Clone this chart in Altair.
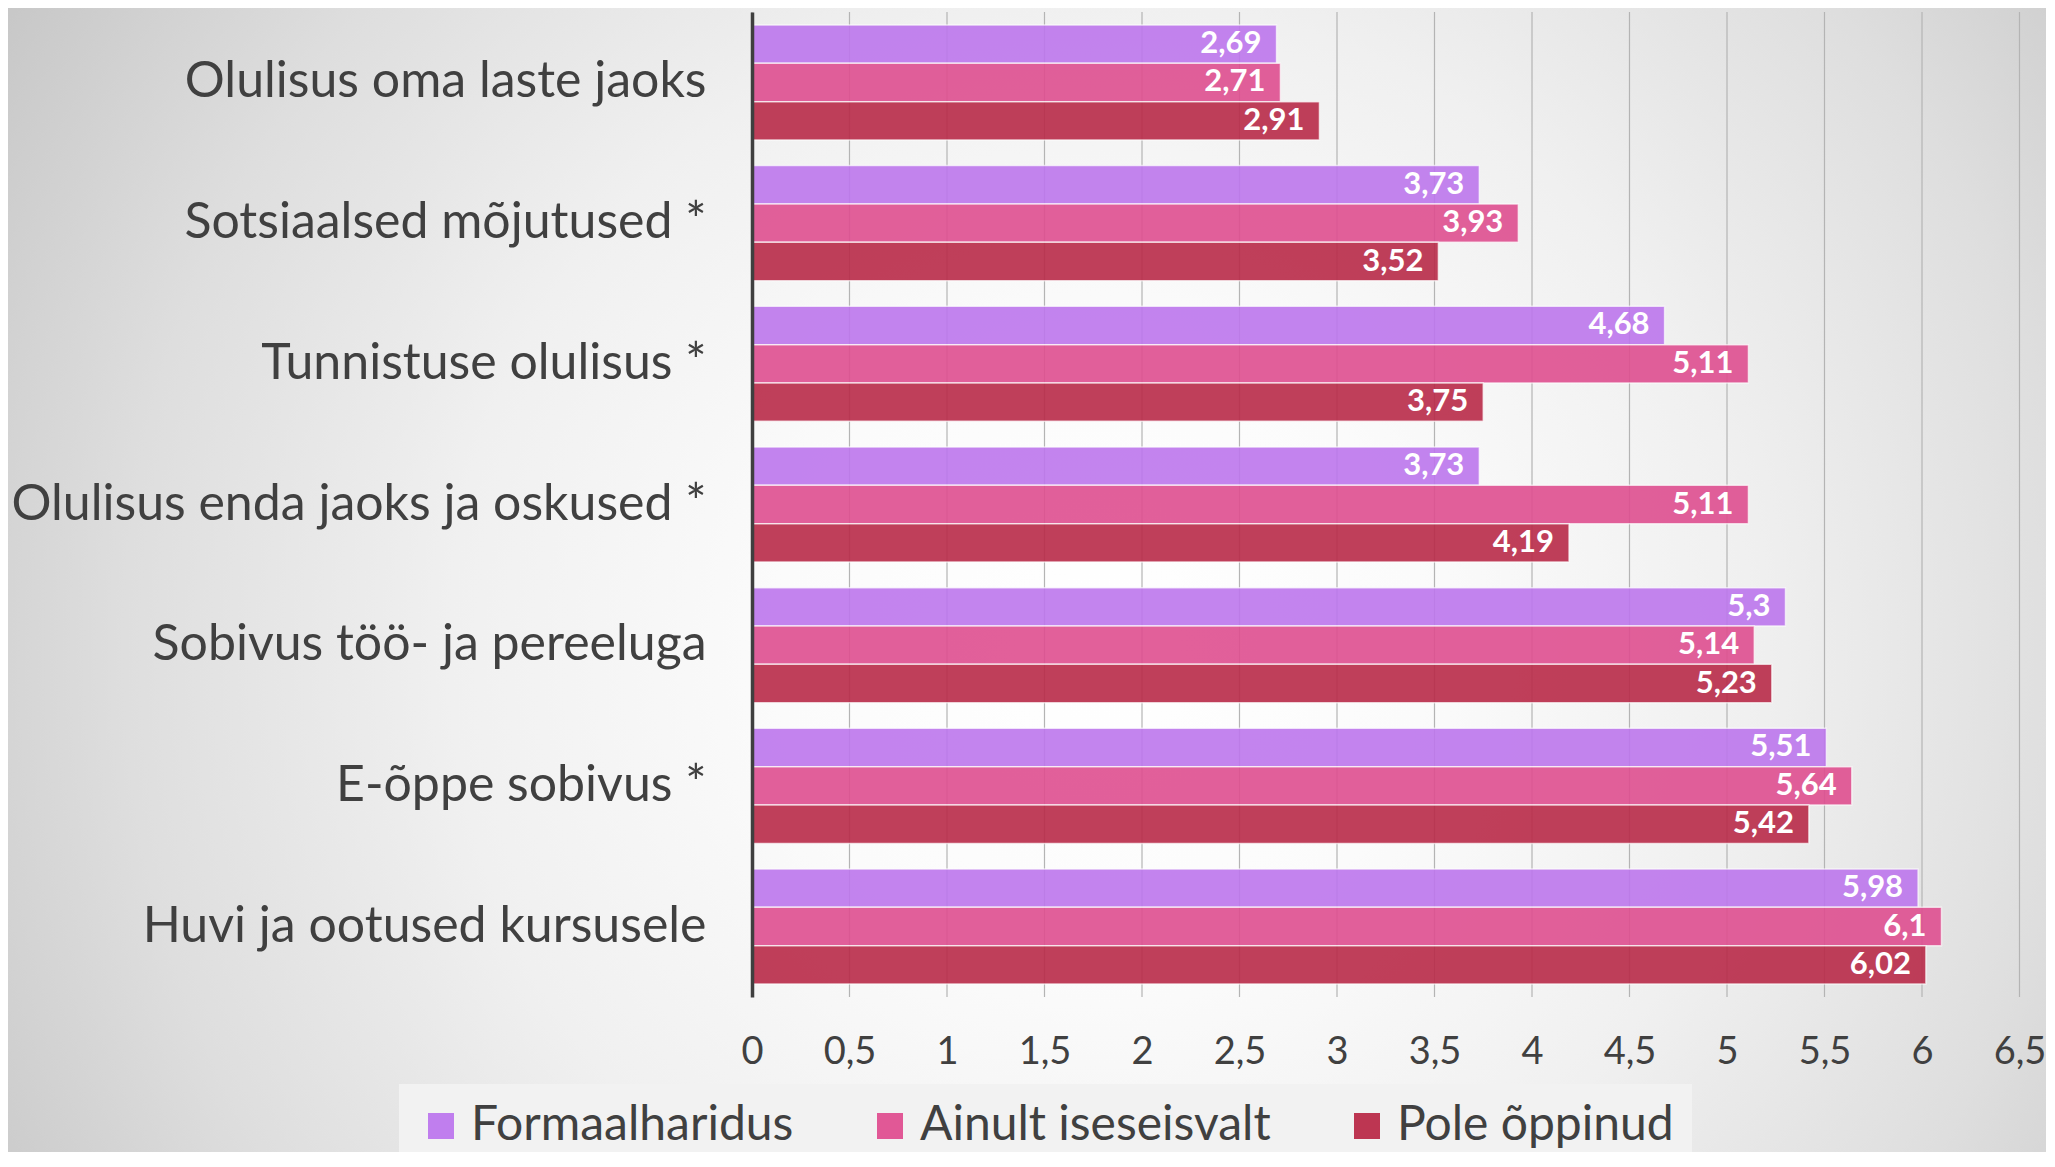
import altair as alt
import pandas as pd

categories = [
    "Olulisus oma laste jaoks",
    "Sotsiaalsed mõjutused *",
    "Tunnistuse olulisus *",
    "Olulisus enda jaoks ja oskused *",
    "Sobivus töö- ja pereeluga",
    "E-õppe sobivus *",
    "Huvi ja ootused kursusele",
]
series = ["Formaalharidus", "Ainult iseseisvalt", "Pole õppinud"]
formaal = [2.69, 3.73, 4.68, 3.73, 5.3, 5.51, 5.98]
iseseisvalt = [2.71, 3.93, 5.11, 5.11, 5.14, 5.64, 6.1]
pole = [2.91, 3.52, 3.75, 4.19, 5.23, 5.42, 6.02]
x_ticks = [0, 0.5, 1, 1.5, 2, 2.5, 3, 3.5, 4, 4.5, 5, 5.5, 6, 6.5]
colors = ["#bd77ed", "#df4f90", "#b92b49"]

rows = []
for s, vals in zip(series, [formaal, iseseisvalt, pole]):
    for c, v in zip(categories, vals):
        rows.append({"kategooria": c, "rühm": s, "väärtus": v,
                     "silt": str(v).replace(".", ",")})
df = pd.DataFrame(rows)
ticks_df = pd.DataFrame({"t": x_ticks})

W = 1267.5
H = 985
FONT = "Lato"

xscale = alt.Scale(domain=[0, 6.5], nice=False, zero=True)
yscale = alt.Scale(domain=categories, paddingInner=0.182, paddingOuter=0.092)

bg = alt.Chart(alt.Data(values=[{"bg": 1}])).mark_rect(
    fill={
        "gradient": "radial",
        "x1": 0.5, "y1": 0.5, "r1": 0,
        "x2": 0.5, "y2": 0.5, "r2": 0.5,
        "stops": [
            {"offset": 0, "color": "#ffffff"},
            {"offset": 0.25, "color": "#fbfbfb"},
            {"offset": 0.5, "color": "#f0f0f0"},
            {"offset": 0.75, "color": "#dedede"},
            {"offset": 1, "color": "#c5c5c5"},
        ],
    },
    strokeWidth=0,
).encode(
    x=alt.value(-952), x2=alt.value(1648),
    y=alt.value(-662), y2=alt.value(1938),
)

grid = alt.Chart(ticks_df).mark_rule(color="#b4b4b4", strokeWidth=1.2).encode(
    x=alt.X("t:Q", scale=xscale)
)

base = alt.Chart(df).encode(
    x=alt.X("väärtus:Q", scale=xscale,
            axis=alt.Axis(values=x_ticks, grid=False, domain=False, ticks=False,
                          labelExpr="replace(toString(datum.value), '.', ',')",
                          labelFont=FONT, labelFontSize=38, labelColor="#404040",
                          labelPadding=36, title=None, zindex=1,
                          labelFlush=False, labelOverlap=False)),
    y=alt.Y("kategooria:N", scale=yscale,
            axis=alt.Axis(title=None, ticks=False, tickSize=0, domain=True,
                          domainColor="#3f3f3f", domainWidth=3.5,
                          labelFont=FONT, labelFontSize=50, labelColor="#404040",
                          labelPadding=46, labelLimit=1000, grid=False, zindex=1)),
    yOffset=alt.YOffset("rühm:N", sort=series,
                        scale=alt.Scale(domain=series, paddingInner=0, paddingOuter=0)),
)

bars = base.mark_bar(opacity=0.9, stroke="white", strokeOpacity=0.7,
                     strokeWidth=1.5).encode(
    color=alt.Color("rühm:N", sort=series,
                    scale=alt.Scale(domain=series, range=colors),
                    legend=alt.Legend(
                        title=None, orient="none", legendX=-353, legendY=1072,
                        direction="horizontal", symbolType="square",
                        symbolSize=676, symbolStrokeWidth=0, symbolOpacity=0.95,
                        labelFont=FONT, labelFontSize=48, labelColor="#404040",
                        labelOffset=6, columnPadding=72, padding=18,
                        fillColor="#f2f2f2", labelLimit=1000)),
)

text = base.mark_text(align="right", baseline="middle", dx=-15, font=FONT,
                      fontSize=31, fontWeight="bold", color="white").encode(
    text="silt:N"
)

chart = alt.layer(bg, grid, bars, text).properties(
    width=W, height=H,
    autosize=alt.AutoSizeParams(type="none"),
    padding={"left": 744, "top": 4, "right": 26, "bottom": 155},
).configure_view(stroke=None)

chart.save("out.html", embed_options={"renderer": "svg", "actions": False})
